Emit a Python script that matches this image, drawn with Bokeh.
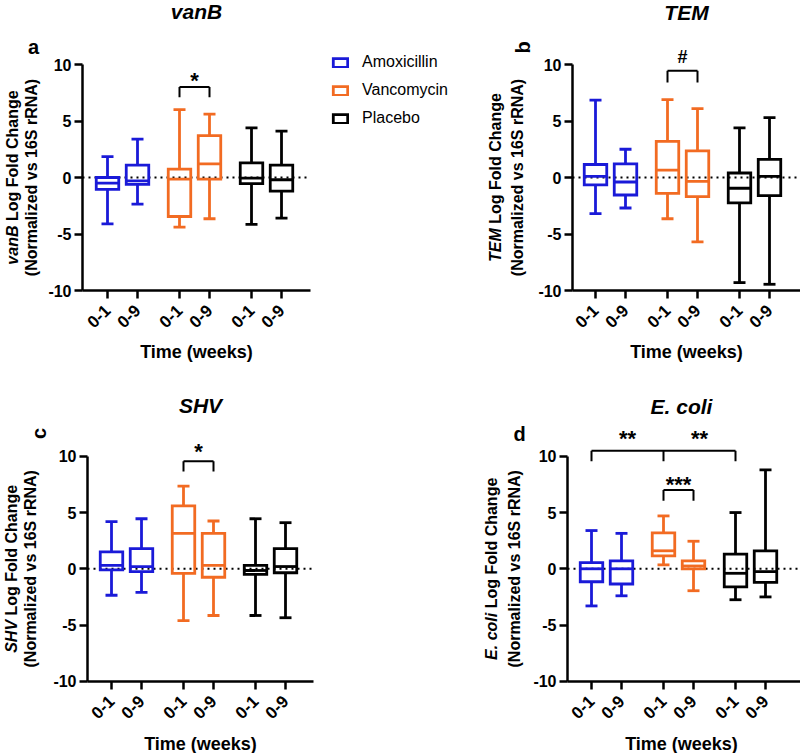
import math
from bokeh.plotting import figure
from bokeh.models import Range1d, FixedTicker, Legend, LegendItem, LinearAxis
from bokeh.core.properties import value
from bokeh.layouts import column, row
from bokeh.embed import file_html
from bokeh.resources import INLINE

FONT = "Liberation Sans"

# ---------------- data ----------------
groups = ["Amoxicillin", "Vancomycin", "Placebo"]
times = ["0-1", "0-9"]
group_colors = ["#1a1ad8", "#f26b22", "#000000"]
y_ticks = [-10, -5, 0, 5, 10]
x_title = "Time (weeks)"
y_label_rest = "Log Fold Change"
y_label_line2 = "(Normalized vs 16S rRNA)"

# order: Amox 0-1, Amox 0-9, Vanc 0-1, Vanc 0-9, Placebo 0-1, Placebo 0-9
vanb_min = [-4.1, -2.35, -4.4, -3.65, -4.15, -3.6]
vanb_q1 = [-1.05, -0.6, -3.45, -0.15, -0.55, -1.2]
vanb_med = [-0.5, -0.3, -0.15, 1.2, -0.05, -0.2]
vanb_q3 = [0.0, 1.1, 0.75, 3.7, 1.3, 1.1]
vanb_max = [1.85, 3.4, 6.0, 5.6, 4.4, 4.1]

tem_min = [-3.2, -2.7, -3.65, -5.7, -9.3, -9.45]
tem_q1 = [-0.65, -1.55, -1.4, -1.7, -2.25, -1.6]
tem_med = [0.1, -0.4, 0.65, -0.35, -0.95, 0.1]
tem_q3 = [1.15, 1.2, 3.2, 2.35, 0.4, 1.6]
tem_max = [6.85, 2.5, 6.9, 6.1, 4.4, 5.3]

shv_min = [-2.35, -2.1, -4.6, -4.15, -4.15, -4.35]
shv_q1 = [-0.1, -0.25, -0.4, -0.75, -0.5, -0.35]
shv_med = [0.3, 0.2, 3.15, 0.3, -0.15, 0.2]
shv_q3 = [1.5, 1.8, 5.6, 3.15, 0.3, 1.8]
shv_max = [4.2, 4.45, 7.35, 4.25, 4.45, 4.1]

ecoli_min = [-3.3, -2.4, 0.35, -1.95, -2.75, -2.5]
ecoli_q1 = [-1.15, -1.35, 1.15, 0.0, -1.6, -1.2]
ecoli_med = [0.0, 0.0, 1.6, 0.25, -0.4, -0.25]
ecoli_q3 = [0.55, 0.7, 3.2, 0.7, 1.3, 1.6]
ecoli_max = [3.4, 3.15, 4.7, 2.45, 5.0, 8.8]

# significance brackets: columns joined, bracket top, leg foot, marks, mark centre
sig_vanb = [{"cols": [2, 3], "top": 8.0, "foot": 7.1, "marks": ["*"], "mark_y": 8.9}]
sig_tem = [{"cols": [2, 3], "top": 9.45, "foot": 8.4, "marks": ["#"], "mark_y": 10.7}]
sig_shv = [{"cols": [2, 3], "top": 9.55, "foot": 8.65, "marks": ["*"], "mark_y": 10.8}]
sig_ecoli = [
    {"cols": [0, 2, 4], "top": 10.5, "foot": 9.55, "marks": ["**", "**"], "mark_y": 11.9},
    {"cols": [2, 3], "top": 7.0, "foot": 6.05, "marks": ["***"], "mark_y": 7.85},
]

# ---------------- style / layout ----------------
STEP = 10
GROUP_STEP = 24
BOX_W = 7.5
CAP_W = 4.0
LW = 2.8
PPX = 3.0  # pixels per x unit
ITALIC_EM = {"vanB": 2.445, "TEM": 2.111, "SHV": 2.056, "E. coli": 2.946}


def txt(p, x, y, t, size, style="bold", align="center", baseline="middle", angle=0.0):
    p.text(x=[x], y=[y], text=[t], angle=angle, text_align=value(align),
           text_baseline=value(baseline), text_font=value(FONT),
           text_font_style=value(style), text_font_size=value(f"{size}px"),
           text_color="black")


def make_panel(gene, letter, letter_angle, mins, q1s, meds, q3s, maxs, sigs, g, legend=False):
    w, h, ppu = g["w"], g["h"], g["ppu"]
    x_start = -g["pos0"] / PPX
    x_end = x_start + w / PPX
    y_end = g["y0"] / ppu
    y_start = y_end - h / ppu

    def X(px):
        return x_start + px / PPX

    def Y(py):
        return y_end - py / ppu

    p = figure(width=w, height=h, x_range=Range1d(x_start, x_end), y_range=Range1d(y_start, y_end),
               output_backend="svg", toolbar_location=None, title=None, min_border=0,
               x_axis_location=None, y_axis_location=None)
    p.outline_line_color = None
    p.background_fill_color = "white"
    p.border_fill_color = "white"
    p.grid.visible = False
    p.xgrid.visible = False
    p.ygrid.visible = False

    ax_x0 = X(g["yaxis"])
    ax_x1 = X(g["xend"])

    xs = [gi * GROUP_STEP + t * STEP for gi in range(len(groups)) for t in range(len(times))]
    cols = [group_colors[gi] for gi in range(len(groups)) for t in range(len(times))]

    # dotted zero line along the axis extent
    p.segment(x0=[ax_x0], y0=[0], x1=[ax_x1], y1=[0], line_color="black",
              line_dash="2 4", line_width=2)

    hc = CAP_W / 2
    hb = BOX_W / 2
    p.segment(x0=xs, y0=mins, x1=xs, y1=q1s, line_color=cols, line_width=LW)
    p.segment(x0=xs, y0=q3s, x1=xs, y1=maxs, line_color=cols, line_width=LW)
    p.segment(x0=[x - hc for x in xs], y0=mins, x1=[x + hc for x in xs], y1=mins,
              line_color=cols, line_width=LW)
    p.segment(x0=[x - hc for x in xs], y0=maxs, x1=[x + hc for x in xs], y1=maxs,
              line_color=cols, line_width=LW)
    p.segment(x0=[x - hb for x in xs], y0=meds, x1=[x + hb for x in xs], y1=meds,
              line_color=cols, line_width=LW)
    rends = []
    for gi in range(len(groups)):
        idx = [gi * len(times) + t for t in range(len(times))]
        r = p.vbar(x=[xs[i] for i in idx], width=BOX_W,
                   bottom=[q1s[i] for i in idx], top=[q3s[i] for i in idx],
                   fill_color=None, line_color=group_colors[gi], line_width=LW,
                   line_join="miter")
        rends.append(r)

    # significance brackets
    for s in sigs:
        cx = [xs[c] for c in s["cols"]]
        p.segment(x0=[cx[0]], y0=[s["top"]], x1=[cx[-1]], y1=[s["top"]],
                  line_color="black", line_width=2)
        p.segment(x0=cx, y0=[s["top"]] * len(cx), x1=cx, y1=[s["foot"]] * len(cx),
                  line_color="black", line_width=2)
        for k, m in enumerate(s["marks"]):
            mx = (cx[k] + cx[k + 1]) / 2
            fs = 22 if m.startswith("*") else 18
            kk = 0.17 if m.startswith("*") else 0.03
            txt(p, mx, s["mark_y"] - kk * fs / ppu, m, fs, baseline="alphabetic")

    # axes drawn at fixed locations inside the canvas
    xaxis = LinearAxis(fixed_location=-10, bounds=(ax_x0, ax_x1),
                       ticker=FixedTicker(ticks=xs),
                       major_label_overrides={x: times[i % len(times)] for i, x in enumerate(xs)},
                       major_label_orientation=math.pi / 4, major_label_standoff=9)
    yaxis = LinearAxis(fixed_location=ax_x0, bounds=(-10, 10),
                       ticker=FixedTicker(ticks=y_ticks),
                       major_label_overrides={t: str(t) for t in y_ticks},
                       major_label_standoff=3)
    for ax in (xaxis, yaxis):
        ax.axis_line_width = 2.5
        ax.axis_line_color = "black"
        ax.major_tick_line_width = 2.5
        ax.major_tick_line_color = "black"
        ax.major_tick_out = 8
        ax.major_tick_in = 0
        ax.minor_tick_out = 0
        ax.minor_tick_in = 0
        ax.major_label_text_font = FONT
        ax.major_label_text_font_style = "bold"
        ax.major_label_text_font_size = "16px"
        ax.major_label_text_color = "black"
    xaxis.major_label_text_font_size = "17px"
    p.add_layout(xaxis, "below")
    p.add_layout(yaxis, "left")

    xc = (ax_x0 + ax_x1) / 2 if g.get("xc") is None else X(g["xc"])
    # x axis title
    txt(p, xc, Y(g["xlab"]), x_title, 18)
    # panel title
    txt(p, xc, Y(g["ty"]), gene, 21, style="bold italic")
    # panel letter
    txt(p, X(g["lx"]), Y(g["ly"]), letter, 20, angle=letter_angle)
    # y label: first line with italic gene name, second line plain
    fs = 16
    wi = ITALIC_EM[gene] * fs
    gap = 0.278 * fs
    wr = 8.167 * fs
    L = wi + gap + wr
    j = -L / 2 + wi
    txt(p, X(g["yl1"]), j / ppu, gene, fs, style="bold italic", align="right", angle=math.pi / 2)
    txt(p, X(g["yl1"]), (j + gap) / ppu, y_label_rest, fs, align="left", angle=math.pi / 2)
    txt(p, X(g["yl2"]), 0, y_label_line2, fs, angle=math.pi / 2)

    if legend:
        lg = Legend(items=[LegendItem(label=groups[i], renderers=[rends[i]]) for i in range(len(groups))],
                    location=(g["leg_x"], h - g["leg_bottom"]), orientation="vertical",
                    glyph_width=18, glyph_height=11, label_standoff=13, spacing=8,
                    padding=0, margin=0, border_line_color=None, background_fill_alpha=0,
                    label_text_font=FONT, label_text_font_size="16px",
                    label_text_color="black", label_height=20)
        p.add_layout(lg)
    return p


# layout constants in canvas pixels
geo_a = dict(w=450, h=395, ppu=11.3, pos0=107, y0=177, yaxis=82, xend=310, xlab=351,
             ty=11, lx=33, ly=46, yl1=12, yl2=31, leg_x=331, leg_bottom=128)
geo_b = dict(w=350, h=395, ppu=11.3, pos0=145, y0=177, yaxis=122, xend=350, xlab=351,
             ty=12, lx=72, ly=47, yl1=45, yl2=67)
geo_c = dict(w=450, h=358, ppu=11.25, pos0=111, y0=173.3, yaxis=87, xend=313, xlab=348,
             ty=10, lx=38, ly=38, yl1=11, yl2=30)
geo_d = dict(w=350, h=358, ppu=11.25, pos0=141, y0=173.3, yaxis=117, xend=350, xlab=348,
             ty=10.5, lx=69, ly=38, yl1=41, yl2=64, xc=231)

pa = make_panel("vanB", "a", 0, vanb_min, vanb_q1, vanb_med, vanb_q3, vanb_max, sig_vanb, geo_a, legend=True)
pb = make_panel("TEM", "b", math.pi / 2, tem_min, tem_q1, tem_med, tem_q3, tem_max, sig_tem, geo_b)
pc = make_panel("SHV", "c", math.pi / 2, shv_min, shv_q1, shv_med, shv_q3, shv_max, sig_shv, geo_c)
pd = make_panel("E. coli", "d", 0, ecoli_min, ecoli_q1, ecoli_med, ecoli_q3, ecoli_max, sig_ecoli, geo_d)

layout = column(row(pa, pb), row(pc, pd))
open("out.html", "w").write(file_html(layout, INLINE))
